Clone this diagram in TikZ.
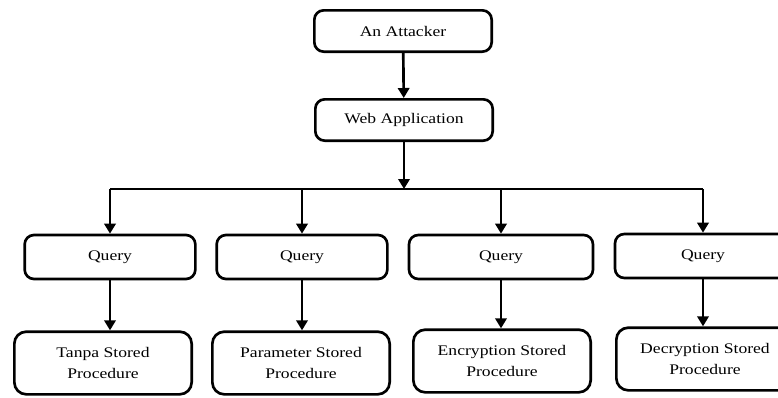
\documentclass[tikz,border=0pt]{standalone}
\usepackage{fontspec}
\setmainfont{Liberation Serif}[FakeStretch=1.2]
\usepackage{tikz}
\usetikzlibrary{arrows.meta, positioning, calc}

\begin{document}
\begin{tikzpicture}[x=0.75pt, y=-0.75pt,
    topbox/.style={rectangle, rounded corners=7pt, draw=black, line width=2pt,
                   minimum width=133pt, minimum height=31pt, align=center,
                   font=\fontsize{11}{15.75}\selectfont},
    qbox/.style={rectangle, rounded corners=7pt, draw=black, line width=2pt,
                 minimum width=#1, minimum height=33pt, align=center,
                 font=\fontsize{11}{15.75}\selectfont},
    procbox/.style={rectangle, rounded corners=9pt, draw=black, line width=2pt,
                    minimum width=133pt, minimum height=47pt, align=center,
                    font=\fontsize{11}{15.75}\selectfont},
    arrow/.style={-{Triangle[length=7.5pt, width=8.5pt]}, line width=2pt}
]
\useasboundingbox (0,0) rectangle (778,397);
\clip (0,0) rectangle (778,397);

\node[topbox] (attacker) at (403,31)  {An Attacker};
\node[topbox] (webapp)   at (404,120) {Web Application};

\coordinate (bus) at (404,189);

\node[qbox=128pt] (q1) at (110,257) {Query};
\node[qbox=128pt] (q2) at (302,257) {Query};
\node[qbox=138pt] (q3) at (501,257) {Query};
\node[qbox=132pt] (q4) at (703,256) {Query};

\node[procbox] (p1) at (103,363) {Tanpa Stored\\Procedure};
\node[procbox] (p2) at (301,363) {Parameter Stored\\Procedure};
\node[procbox] (p3) at (502,361) {Encryption Stored\\Procedure};
\node[procbox] (p4) at (705,359) {Decryption Stored\\Procedure};

\draw[arrow] (attacker) -- (webapp);
\draw[arrow] (webapp) -- (bus);
\draw[line width=2pt] (q1.north |- bus) -- (q4.north |- bus);

\draw[arrow] (q1.north |- bus) -- (q1.north);
\draw[arrow] (q2.north |- bus) -- (q2.north);
\draw[arrow] (q3.north |- bus) -- (q3.north);
\draw[arrow] (q4.north |- bus) -- (q4.north);

\draw[arrow] (q1.south) -- (q1.south |- p1.north);
\draw[arrow] (q2.south) -- (q2.south |- p2.north);
\draw[arrow] (q3.south) -- (q3.south |- p3.north);
\draw[arrow] (q4.south) -- (q4.south |- p4.north);
\end{tikzpicture}
\end{document}
